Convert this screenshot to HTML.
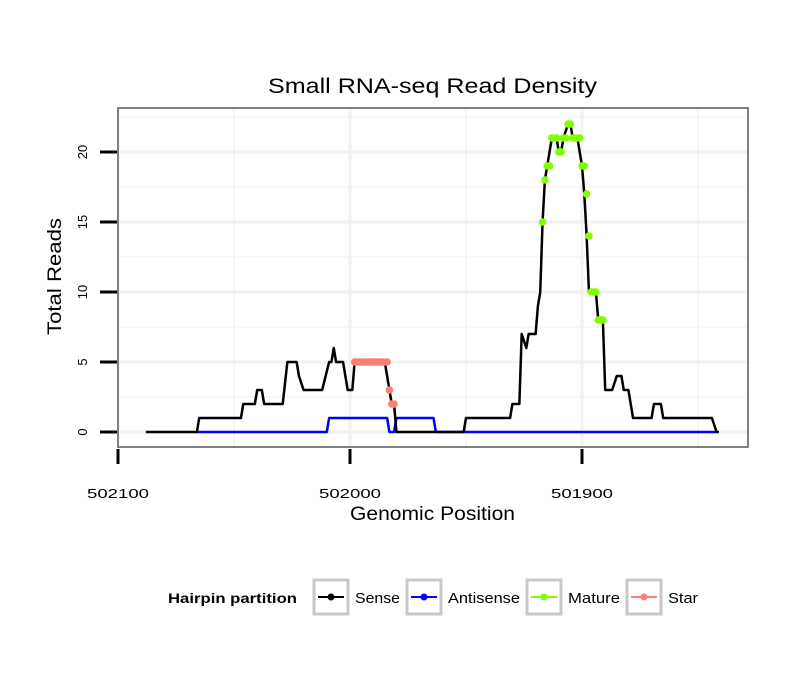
<!DOCTYPE html>
<html><head><meta charset="utf-8"><style>
body{margin:0;background:#fff}
text{font-family:"Liberation Sans",sans-serif}
</style></head><body>
<svg id="chart" width="810" height="690">
<rect width="810" height="690" fill="#fff"/>
<text x="268" y="93" font-size="21" textLength="329" lengthAdjust="spacingAndGlyphs">Small RNA-seq Read Density</text>
<g id="grid"></g>
<g id="series"></g>
<rect x="118" y="108" width="630" height="339" fill="none" stroke="#808080" stroke-width="2"/>
<g id="axes"></g>
<text x="350" y="520" font-size="19" textLength="165" lengthAdjust="spacingAndGlyphs">Genomic Position</text>
<text transform="translate(61,335) rotate(-90)" font-size="19" textLength="117" lengthAdjust="spacingAndGlyphs">Total Reads</text>
<g>
<text x="168" y="603" font-size="14" font-weight="bold" textLength="129" lengthAdjust="spacingAndGlyphs">Hairpin partition</text>
<g><rect x="314" y="580" width="34" height="34" fill="#fff" stroke="#c8c8c8" stroke-width="3"/><line x1="318" x2="344" y1="597" y2="597" stroke="#000" stroke-width="2"/><circle cx="331" cy="597" r="3.5" fill="#000"/><text x="355" y="603" font-size="15" textLength="45" lengthAdjust="spacingAndGlyphs">Sense</text></g>
<g><rect x="407" y="580" width="34" height="34" fill="#fff" stroke="#c8c8c8" stroke-width="3"/><line x1="411" x2="437" y1="597" y2="597" stroke="#0000ff" stroke-width="2"/><circle cx="424" cy="597" r="3.5" fill="#0000ff"/><text x="448" y="603" font-size="15" textLength="72" lengthAdjust="spacingAndGlyphs">Antisense</text></g>
<g><rect x="527" y="580" width="34" height="34" fill="#fff" stroke="#c8c8c8" stroke-width="3"/><line x1="531" x2="557" y1="597" y2="597" stroke="#7fff00" stroke-width="2"/><circle cx="544" cy="597" r="3.5" fill="#7fff00"/><text x="568" y="603" font-size="15" textLength="52" lengthAdjust="spacingAndGlyphs">Mature</text></g>
<g><rect x="627" y="580" width="34" height="34" fill="#fff" stroke="#c8c8c8" stroke-width="3"/><line x1="631" x2="657" y1="597" y2="597" stroke="#fa8072" stroke-width="2"/><circle cx="644" cy="597" r="3.5" fill="#fa8072"/><text x="668" y="603" font-size="15" textLength="30" lengthAdjust="spacingAndGlyphs">Star</text></g>
</g>
</svg>
<script>
const xTicks=[502100,502000,501900];
const xMinor=[502050,501950,501850];
const yTicks=[0,5,10,15,20];
const yGrid=[2.5,7.5,12.5,17.5,22.5];
const sensePos=[502088,502066,502065,502047,502046,502041,502040,502038,502037,502029,502027,502023,502022,502020,502012,502009,502008,502007,502006,502003,502001,501999,501998,501985,501983,501982,501981,501980,501951,501950,501931,501930,501927,501926,501924,501923,501920,501919,501918,501917,501916,501915,501913,501911,501910,501909,501908,501906,501905,501904,501902,501900,501899,501898,501897,501894,501893,501891,501890,501887,501885,501883,501882,501880,501879,501878,501870,501869,501866,501865,501844,501842,501841];
const senseVal=[0,0,1,1,2,2,3,3,2,2,5,5,4,3,3,5,5,6,5,5,3,3,5,5,3,2,2,0,0,1,1,2,2,7,6,7,7,9,10,15,18,19,21,21,20,20,21,22,22,21,21,19,17,14,10,10,8,8,3,3,4,4,3,3,2,1,1,2,2,1,1,0,0];
const antiPos=[502066,502010,502009,501984,501983,501981,501980,501964,501963,501842];
const antiVal=[0,0,1,1,0,0,1,1,0,0];
const maturePos=[501917,501916,501915,501914,501913,501912,501911,501910,501909,501908,501907,501906,501905,501904,501903,501902,501901,501900,501899,501898,501897,501896,501895,501894,501893,501892,501891];
const matureVal=[15,18,19,19,21,21,21,20,20,21,21,22,22,21,21,21,21,19,19,17,14,10,10,10,8,8,8];
const starPos=[501998,501997,501996,501995,501994,501993,501992,501991,501990,501989,501988,501987,501986,501985,501984,501983,501982,501981];
const starVal=[5,5,5,5,5,5,5,5,5,5,5,5,5,5,5,3,2,2];

const NS="http://www.w3.org/2000/svg";
const xs=p=>350+(502000-p)*2.32;
const ys=v=>432-v*14;
function mk(tag,attrs,parent){const e=document.createElementNS(NS,tag);for(const k in attrs)e.setAttribute(k,attrs[k]);parent.appendChild(e);return e;}
const grid=document.getElementById('grid'),ser=document.getElementById('series'),axes=document.getElementById('axes');
mk('rect',{x:118,y:108,width:630,height:339,fill:'#fff'},grid);
yGrid.forEach(v=>{const l=mk('line',{x1:118,x2:748,y1:ys(v),y2:ys(v),stroke:'#f7f7f7','stroke-width':2},grid);

});
xMinor.forEach(p=>{const l=mk('line',{x1:xs(p),x2:xs(p),y1:108,y2:447,stroke:'#f7f7f7','stroke-width':2},grid);

});
yTicks.forEach(v=>{const l=mk('line',{x1:118,x2:748,y1:ys(v),y2:ys(v),stroke:'#f2f2f2','stroke-width':3},grid);


const t=mk('line',{x1:100,x2:117,y1:ys(v),y2:ys(v),stroke:'#000','stroke-width':3},axes);


const tx=mk('text',{transform:`translate(87,${ys(v)}) rotate(-90)`,'font-size':13,'text-anchor':'middle'},axes);tx.textContent=v;

});
xTicks.forEach(p=>{const l=mk('line',{x1:xs(p),x2:xs(p),y1:108,y2:447,stroke:'#f2f2f2','stroke-width':3},grid);


const t=mk('line',{x1:xs(p),x2:xs(p),y1:449,y2:464,stroke:'#000','stroke-width':3},axes);


const tx=mk('text',{x:xs(p)-31,y:498,'font-size':13,textLength:62,lengthAdjust:'spacingAndGlyphs'},axes);tx.textContent=p;

});
function line(P,V,c,name){const pl=mk('polyline',{points:P.map((p,i)=>xs(p)+','+ys(V[i])).join(' '),fill:'none',stroke:c,'stroke-width':2.5,'stroke-linejoin':'round'},ser);

}
function pts(P,V,c,name){P.forEach((p,i)=>{const ci=mk('circle',{cx:xs(p),cy:ys(V[i]),r:3.8,fill:c},ser);

});}
line(antiPos,antiVal,'#0000ff','antisense-line');
line(sensePos,senseVal,'#000','sense-line');
pts(maturePos,matureVal,'#7fff00','mature-point');
pts(starPos,starVal,'#fa8072','star-point');
</script>
</body></html>
